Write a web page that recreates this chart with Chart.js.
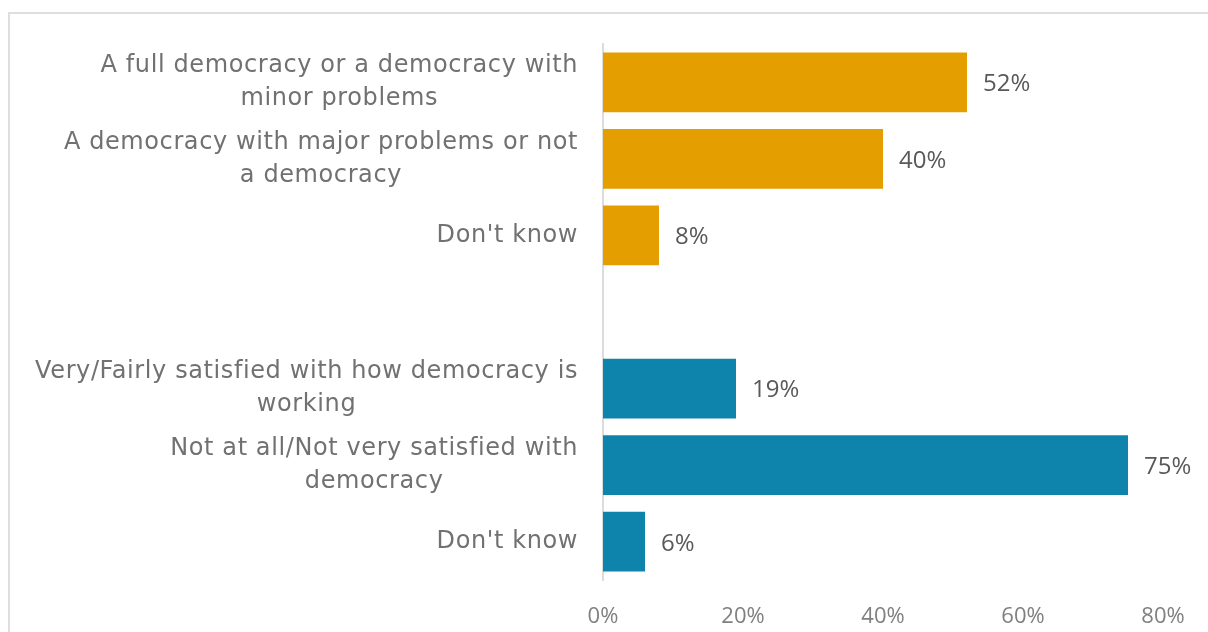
<!DOCTYPE html>
<html>
<head>
<meta charset="utf-8">
<script src="https://cdn.jsdelivr.net/npm/chart.js@4.4.1/dist/chart.umd.min.js"></script>
<style>
    html, body { margin: 0; padding: 0; background: #fff; }
    #wrap { position: relative; width: 1208px; height: 632px; overflow: hidden; }
    /* light panel frame around the chart */
    #frame { position: absolute; left: 8px; top: 12px; width: 1300px; height: 700px;
             border-left: 2px solid #dedede; border-top: 2px solid #dedede; }
    #chart { position: absolute; left: 0; top: 0; }
</style>
</head>
<body>
<div id="wrap">
    <div id="frame"></div>
    <canvas id="chart" width="1208" height="632"></canvas>
</div>
<script>
// Survey answers, top to bottom (empty slot separates the two questions)
const categories = [
    ['A full democracy or a democracy with', 'minor problems'],
    ['A democracy with major problems or not', 'a democracy'],
    ["Don't know"],
    [''],
    ['Very/Fairly satisfied with how democracy is', 'working'],
    ['Not at all/Not very satisfied with', 'democracy'],
    ["Don't know"]
];
const shares = [52, 40, 8, null, 19, 75, 6];
const barColors = ['#E59E00', '#E59E00', '#E59E00', '#E59E00', '#0E84AD', '#0E84AD', '#0E84AD'];
const tickValues = [0, 20, 40, 60, 80];

const FONT = '"Open Sans", "DejaVu Sans", sans-serif';
const LABEL_FONT = '"DejaVu Sans", sans-serif';

// category labels: block right-aligned against the axis, lines centred inside the block
const categoryLabels = {
    id: 'categoryLabels',
    afterDraw(chart) {
        const ctx = chart.ctx;
        const yScale = chart.scales.y;
        const right = yScale.right - 25;
        const lineH = 33;
        ctx.save();
        ctx.font = '24px ' + LABEL_FONT;
        ctx.letterSpacing = '0.6px';
        ctx.fillStyle = '#717171';
        ctx.textAlign = 'center';
        ctx.textBaseline = 'middle';
        categories.forEach(function (lines, i) {
            const y = yScale.getPixelForTick(i);
            const blockW = Math.max.apply(null, lines.map(function (l) { return ctx.measureText(l).width; }));
            const cx = right - blockW / 2;
            lines.forEach(function (line, j) {
                ctx.fillText(line, cx, y + (j - (lines.length - 1) / 2) * lineH);
            });
        });
        ctx.restore();
    }
};

// value labels just past the end of each bar
const valueLabels = {
    id: 'valueLabels',
    afterDatasetsDraw(chart) {
        const ctx = chart.ctx;
        const meta = chart.getDatasetMeta(0);
        ctx.save();
        ctx.font = '24px ' + FONT;
        ctx.fillStyle = '#595959';
        ctx.textAlign = 'left';
        ctx.textBaseline = 'middle';
        meta.data.forEach(function (bar, i) {
            if (shares[i] == null) return;
            ctx.fillText(shares[i] + '%', bar.x + 16, bar.y + 2);
        });
        ctx.restore();
    }
};

new Chart(document.getElementById('chart').getContext('2d'), {
    type: 'bar',
    data: {
        labels: categories,
        datasets: [{
            data: shares,
            backgroundColor: barColors,
            borderWidth: 0,
            categoryPercentage: 0.78,
            barPercentage: 1
        }]
    },
    options: {
        indexAxis: 'y',
        responsive: false,
        animation: false,
        layout: { padding: { top: 44, right: 45, left: 0, bottom: 0 } },
        scales: {
            x: {
                min: 0,
                max: 80,
                afterBuildTicks: function (scale) {
                    scale.ticks = tickValues.map(function (v) { return { value: v }; });
                },
                afterFit: function (scale) { scale.height = 52; },
                grid: { display: false },
                border: { display: false },
                ticks: {
                    padding: 16,
                    color: '#808080',
                    font: { family: FONT, size: 22 },
                    callback: function (v) { return v + '%'; }
                }
            },
            y: {
                afterFit: function (scale) { scale.width = 603; },
                grid: { display: false },
                border: { display: true, color: '#dcdcdc', width: 2 },
                ticks: { display: false }
            }
        },
        plugins: {
            legend: { display: false },
            tooltip: { enabled: false }
        }
    },
    plugins: [categoryLabels, valueLabels]
});
</script>
</body>
</html>
